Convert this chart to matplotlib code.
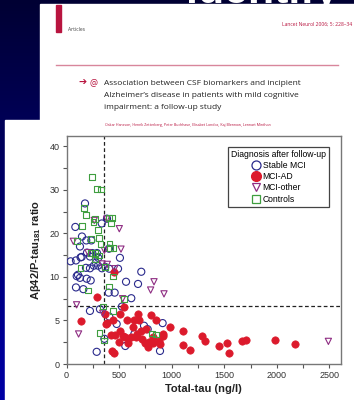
import numpy as np
import matplotlib
matplotlib.use('Agg')
import matplotlib.pyplot as plt
from matplotlib.patches import Rectangle
from matplotlib.lines import Line2D

# CSF total-tau (ng/l) vs Abeta42/P-tau181 ratio, by diagnosis after follow-up
stable_tau = [176, 84, 335, 385, 147, 188, 236, 128, 404, 195, 245, 290, 302, 134,
              508, 39, 90, 185, 223, 337, 369, 490, 407, 109, 711, 97, 128, 192,
              230, 566, 680, 90, 160, 401, 458, 616, 223, 318, 407, 527, 477, 737,
              914, 772, 645, 360, 559, 287, 889, 260, 300, 280, 223, 144]
stable_ratio = [26.9, 21.5, 22.3, 23.4, 19.3, 18.4, 18.4, 17.0, 16.5, 15.6, 15.5,
                15.5, 14.4, 14.5, 14.4, 13.6, 13.8, 12.1, 12.0, 12.0, 12.3, 11.9,
                11.9, 10.5, 11.2, 10.2, 9.9, 9.8, 9.6, 9.45, 9.2, 8.8, 8.6, 8.2,
                8.2, 7.56, 6.1, 6.3, 5.45, 6.6, 4.6, 4.4, 4.7, 4.0, 3.45, 2.9,
                2.07, 1.4, 1.5, 12.6, 12.6, 13.3, 14.7, 14.6]

ad_tau = [455, 290, 134, 369, 382, 543, 512, 439, 575, 677, 692, 645, 803, 851,
          984, 1105, 1288, 1320, 1105, 1174, 433, 455, 423, 464, 508, 534, 559,
          496, 581, 670, 708, 661, 718, 743, 788, 772, 826, 876, 892, 921, 921,
          819, 756, 616, 629, 1447, 1523, 1548, 1668, 1706, 1979, 2172, 372]
ad_ratio = [11.1, 7.75, 4.99, 5.76, 4.68, 6.5, 5.76, 5.07, 5.07, 5.8, 5.0, 5.0,
            5.6, 5.0, 4.3, 3.84, 3.26, 2.68, 2.19, 1.65, 1.53, 1.3, 3.37, 3.37,
            3.84, 3.26, 3.1, 2.57, 2.47, 3.5, 3.84, 3.1, 2.88, 2.47, 2.57, 1.9,
            2.47, 2.68, 2.3, 3.5, 3.26, 3.1, 4.03, 3.1, 4.2, 2.07, 2.37, 1.22,
            2.6, 2.76, 2.76, 2.34, 4.55]

other_tau = [264, 382, 502, 65, 518, 204, 360, 337, 388, 458, 832, 800, 927, 534,
             96, 344, 115, 2490]
other_ratio = [23.0, 23.3, 21.1, 18.2, 16.4, 15.6, 16.1, 13.0, 12.9, 11.9, 9.45,
               8.5, 8.06, 7.5, 6.8, 5.83, 3.45, 2.6]

ctrl_tau = [242, 290, 331, 169, 188, 147, 268, 258, 401, 432, 423, 302, 230, 312,
            410, 448, 417, 322, 100, 236, 274, 312, 134, 274, 366, 439, 401, 204,
            550, 350, 439, 315, 360, 851, 813]
ctrl_ratio = [33.0, 30.3, 30.1, 25.9, 24.3, 21.7, 23.4, 22.6, 23.5, 23.5, 22.4,
              20.8, 18.7, 18.9, 17.7, 16.7, 16.7, 17.6, 18.2, 15.5, 15.5, 14.95,
              12.1, 14.0, 12.3, 10.1, 8.9, 8.45, 7.5, 6.6, 6.1, 3.6, 2.7, 3.4, 3.5]

tau_cutoff = 360
ratio_cutoff = 6.7

title_lines = ["Association between CSF biomarkers and incipient",
               "Alzheimer\u2019s disease in patients with mild cognitive",
               "impairment: a follow-up study"]
authors = ("Oskar Hansson, Henrik Zetterberg, Peter Buchhave, Elisabet Londos, "
           "Kaj Blennow, Lennart Minthon")

navy = '#2a2a8c'
red = '#dc1a2c'
purple = '#8e2c82'
green = '#3f9e3f'
crimson = '#b8143f'

W, H = 354, 400
fig = plt.figure(figsize=(W / 100, H / 100), dpi=100)

# slide background, page panels and article header, in pixel units
page = fig.add_axes([0, 0, 1, 1])
page.set_xlim(0, W)
page.set_ylim(H, 0)
page.axis('off')
grad = np.linspace(0, 1, 256).reshape(-1, 1)
bg = np.zeros((256, 1, 3))
bg[..., 2] = 0.2 + 0.45 * grad
page.imshow(bg, extent=(0, W, H, 0), aspect='auto', zorder=0)
page.text(186, 2.5, 'identify', color='white', fontsize=31, fontweight='bold',
          family='Liberation Sans', va='baseline', zorder=1)
page.add_patch(Rectangle((40, 4), W - 40, 118, color='white', zorder=2))
page.add_patch(Rectangle((5, 120), W - 5, H - 120, color='white', zorder=2))

page.add_patch(Rectangle((56, 5), 5, 27, color=crimson, zorder=3))
page.text(68, 31, 'Articles', fontsize=3.6, color='#444', family='Open Sans',
          va='baseline', zorder=3)
page.text(352, 26, 'Lancet Neurol 2006; 5: 228\u201334', fontsize=3.6,
          color=crimson, family='Open Sans', ha='right', va='baseline', zorder=3)
page.plot([56, 338], [64.5, 64.5], color='#d8869c', lw=1, zorder=3)
page.text(78, 85, '\u2794', fontsize=7, color=crimson, family='DejaVu Sans',
          fontweight='bold', va='baseline', zorder=3)
page.text(90, 85, '@', fontsize=6.5, color=crimson, family='Open Sans',
          va='baseline', zorder=3)
for i, line in enumerate(title_lines):
    page.text(104, 85 + 12 * i, line, fontsize=6.0, color='#222',
              family='Open Sans', va='baseline', zorder=3)
page.text(105, 126, authors, fontsize=2.6, color=crimson, family='Open Sans',
          va='baseline', zorder=3)


# ratio axis: 0-10 drawn at twice the scale of 10-40
def fwd(r):
    r = np.asarray(r, dtype=float)
    return np.where(r <= 10, 2 * r, r + 10)


def inv(t):
    t = np.asarray(t, dtype=float)
    return np.where(t <= 20, t / 2, t - 10)


plt.rcParams['font.family'] = 'Liberation Sans'
ax = fig.add_axes([66.5 / W, 1 - 364 / H, 274.5 / W, 228 / H])
ax.set_facecolor('white')
ax.set_yscale('function', functions=(fwd, inv))
ax.set_xlim(0, 2610)
ax.set_ylim(0, 42.4)

ax.axvline(tau_cutoff, color='#222', lw=0.9, ls=(0, (3, 2)), zorder=1)
ax.axhline(ratio_cutoff, color='#222', lw=0.9, ls=(0, (3, 2)), zorder=1)

ax.scatter(stable_tau, stable_ratio, s=26, facecolors='none', edgecolors=navy,
           linewidths=0.8, zorder=3, label='Stable MCI')
ax.scatter(ad_tau, ad_ratio, s=28, color=red, edgecolors=red, linewidths=0.5,
           zorder=3, label='MCI-AD')
ax.scatter(other_tau, other_ratio, s=20, marker='v', facecolors='none',
           edgecolors=purple, linewidths=0.8, zorder=3, label='MCI-other')
ax.scatter(ctrl_tau, ctrl_ratio, s=17, marker='s', facecolors='none',
           edgecolors=green, linewidths=0.8, zorder=3, label='Controls')

ax.set_xticks(np.arange(0, 2501, 500))
ax.set_xticks(np.arange(250, 2600, 500), minor=True)
ax.set_yticks([0, 5, 10, 20, 30, 40])
ax.set_yticklabels(['0', '5', '10', '20', '30', '40'])
ax.set_yticks([2.5, 7.5, 15, 25, 35], minor=True)
ax.yaxis.set_minor_formatter(plt.NullFormatter())
ax.tick_params(which='both', direction='out', length=3, width=0.8,
               color='#555', labelsize=6.5, labelcolor='#333', pad=2)
for sp in ax.spines.values():
    sp.set_color('#777')
    sp.set_linewidth(1)

ax.set_xlabel('Total-tau (ng/l)', fontsize=8, fontweight='bold', color='#222',
              labelpad=3)
ax.set_ylabel('A\u03b242/P-tau$_{\\mathregular{181}}$ ratio', fontsize=8,
              fontweight='bold', color='#222', labelpad=5)

handles = [
    Line2D([], [], ls='none', marker='o', ms=6.5, mfc='none', mec=navy, mew=0.9),
    Line2D([], [], ls='none', marker='o', ms=7, mfc=red, mec=red),
    Line2D([], [], ls='none', marker='v', ms=6, mfc='none', mec=purple, mew=0.9),
    Line2D([], [], ls='none', marker='s', ms=5.5, mfc='none', mec=green, mew=0.9),
]
leg = ax.legend(handles, ['Stable MCI', 'MCI-AD', 'MCI-other', 'Controls'],
                title='Diagnosis after follow-up', loc='upper right',
                bbox_to_anchor=(0.956, 0.952), borderaxespad=0, fontsize=6.2,
                title_fontsize=6.2, fancybox=False, framealpha=1,
                edgecolor='#444', handlelength=1.0, handletextpad=0.3,
                labelspacing=0.25, borderpad=0.35)
leg.get_frame().set_linewidth(0.9)

fig.savefig('out.png', dpi=100)
